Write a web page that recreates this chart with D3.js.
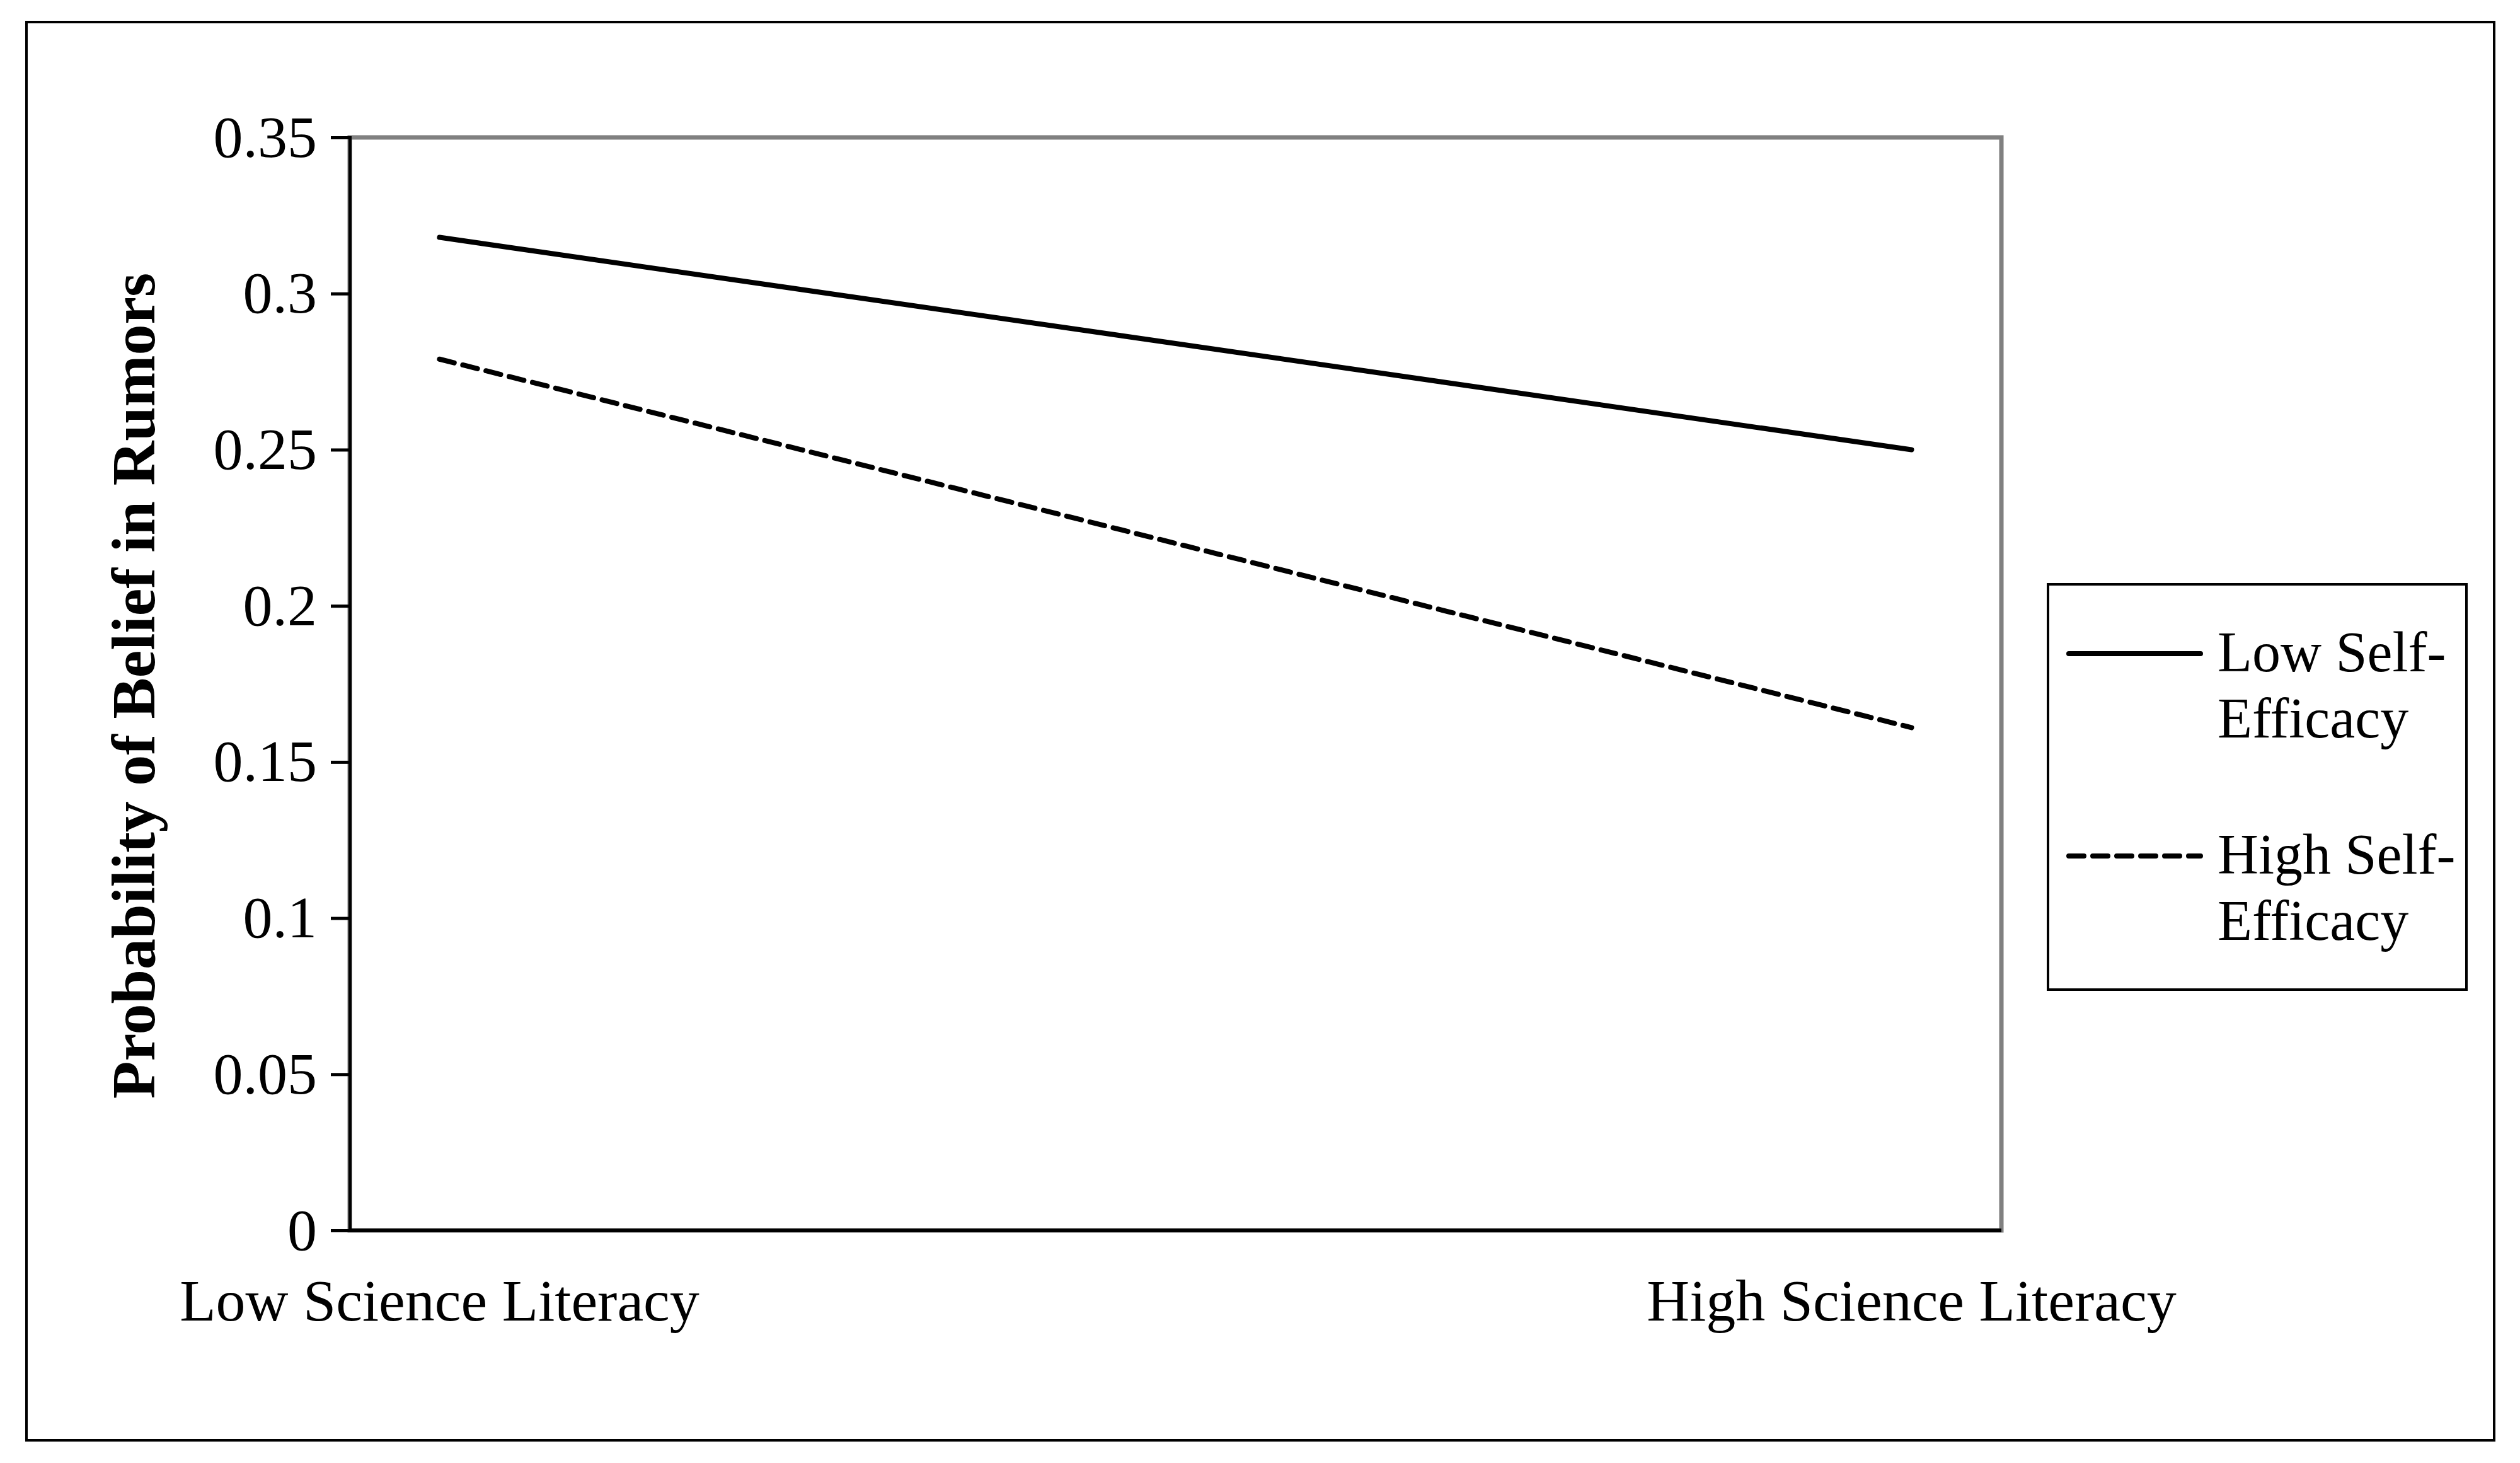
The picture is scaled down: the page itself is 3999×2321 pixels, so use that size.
<!DOCTYPE html>
<html>
<head>
<meta charset="utf-8">
<script src="https://cdn.jsdelivr.net/npm/d3@7"></script>
<style>
    body { margin: 0; background: #fff; }
    text { font-family: "Liberation Serif", "Times New Roman", serif; }
</style>
</head>
<body>
<div id="chart"></div>
<script>
// data
var categories = ["Low Science Literacy", "High Science Literacy"];
var seriesNames = ["Low Self-Efficacy", "High Self-Efficacy"];
var lowSelfEfficacy = [0.318, 0.250];
var highSelfEfficacy = [0.279, 0.161];
var yTicks = [0, 0.05, 0.1, 0.15, 0.2, 0.25, 0.3, 0.35];

const WIDTH = 3999;
const HEIGHT = 2321;
var plot = {left: 555, top: 218, right: 3176, bottom: 1952};

var svg = d3.select("#chart").append("svg")
    .attr("width", WIDTH)
    .attr("height", HEIGHT);

// outer frame
svg.append("rect")
    .attr("x", 42).attr("y", 35)
    .attr("width", 3958 - 42).attr("height", 2285 - 35)
    .attr("fill", "none").attr("stroke", "#000").attr("stroke-width", 4);

var x = d3.scalePoint().domain(categories)
    .range([plot.left, plot.right]).padding(0.061);
var y = d3.scaleLinear().domain([0, 0.35]).range([plot.bottom, plot.top]);

// plot area frame (gray)
svg.append("rect")
    .attr("x", plot.left).attr("y", plot.top)
    .attr("width", plot.right - plot.left).attr("height", plot.bottom - plot.top)
    .attr("fill", "none").attr("stroke", "#808080").attr("stroke-width", 7);

var yAxis = svg.append("g")
    .attr("transform", "translate(" + plot.left + ",0)")
    .call(d3.axisLeft(y).tickValues(yTicks).tickSize(30).tickPadding(22)
        .tickFormat(function(d) { return String(+d.toFixed(2)); }));
yAxis.select(".domain").attr("stroke", "#000").attr("stroke-width", 5);
yAxis.selectAll(".tick line").attr("stroke", "#000").attr("stroke-width", 5);
yAxis.selectAll("text").attr("font-size", 94).attr("fill", "#000")
    .attr("font-family", "Liberation Serif");

// bottom axis line
svg.append("line")
    .attr("x1", plot.left).attr("x2", plot.right)
    .attr("y1", plot.bottom).attr("y2", plot.bottom)
    .attr("stroke", "#000").attr("stroke-width", 6);

svg.selectAll(".xlabel").data(categories).enter().append("text")
    .attr("x", function(d) { return x(d); })
    .attr("y", 2095)
    .attr("text-anchor", "middle")
    .attr("font-size", 94)
    .text(function(d) { return d; });

svg.append("text")
    .attr("transform", "translate(245,1088) rotate(-90)")
    .attr("text-anchor", "middle")
    .attr("font-size", 98)
    .attr("font-weight", "bold")
    .text("Probability of Belief in Rumors");

var line = d3.line()
    .x(function(d, i) { return x(categories[i]); })
    .y(function(d) { return y(d); });

var dashes = [null, "24,14"];
[lowSelfEfficacy, highSelfEfficacy].forEach(function(s, k) {
    svg.append("path")
        .datum(s)
        .attr("d", line)
        .attr("fill", "none")
        .attr("stroke", "#000")
        .attr("stroke-width", 8)
        .attr("stroke-linecap", "round")
        .attr("stroke-dasharray", dashes[k]);
});

// legend
var lg = svg.append("g");
lg.append("rect")
    .attr("x", 3250).attr("y", 927)
    .attr("width", 3914 - 3250).attr("height", 1570 - 927)
    .attr("fill", "#fff").attr("stroke", "#000").attr("stroke-width", 4);
var legendY = [1037, 1358];
seriesNames.forEach(function(name, k) {
    lg.append("line")
        .attr("x1", 3283).attr("x2", 3492)
        .attr("y1", legendY[k]).attr("y2", legendY[k])
        .attr("stroke", "#000").attr("stroke-width", 8)
        .attr("stroke-linecap", "round")
        .attr("stroke-dasharray", dashes[k]);
    var parts = name.split("-");
    var t = lg.append("text")
        .attr("x", 3519).attr("y", legendY[k] + 28)
        .attr("font-size", 90);
    t.append("tspan").attr("x", 3519).text(parts[0] + "-");
    t.append("tspan").attr("x", 3519).attr("dy", 105).text(parts[1]);
});
</script>
</body>
</html>
